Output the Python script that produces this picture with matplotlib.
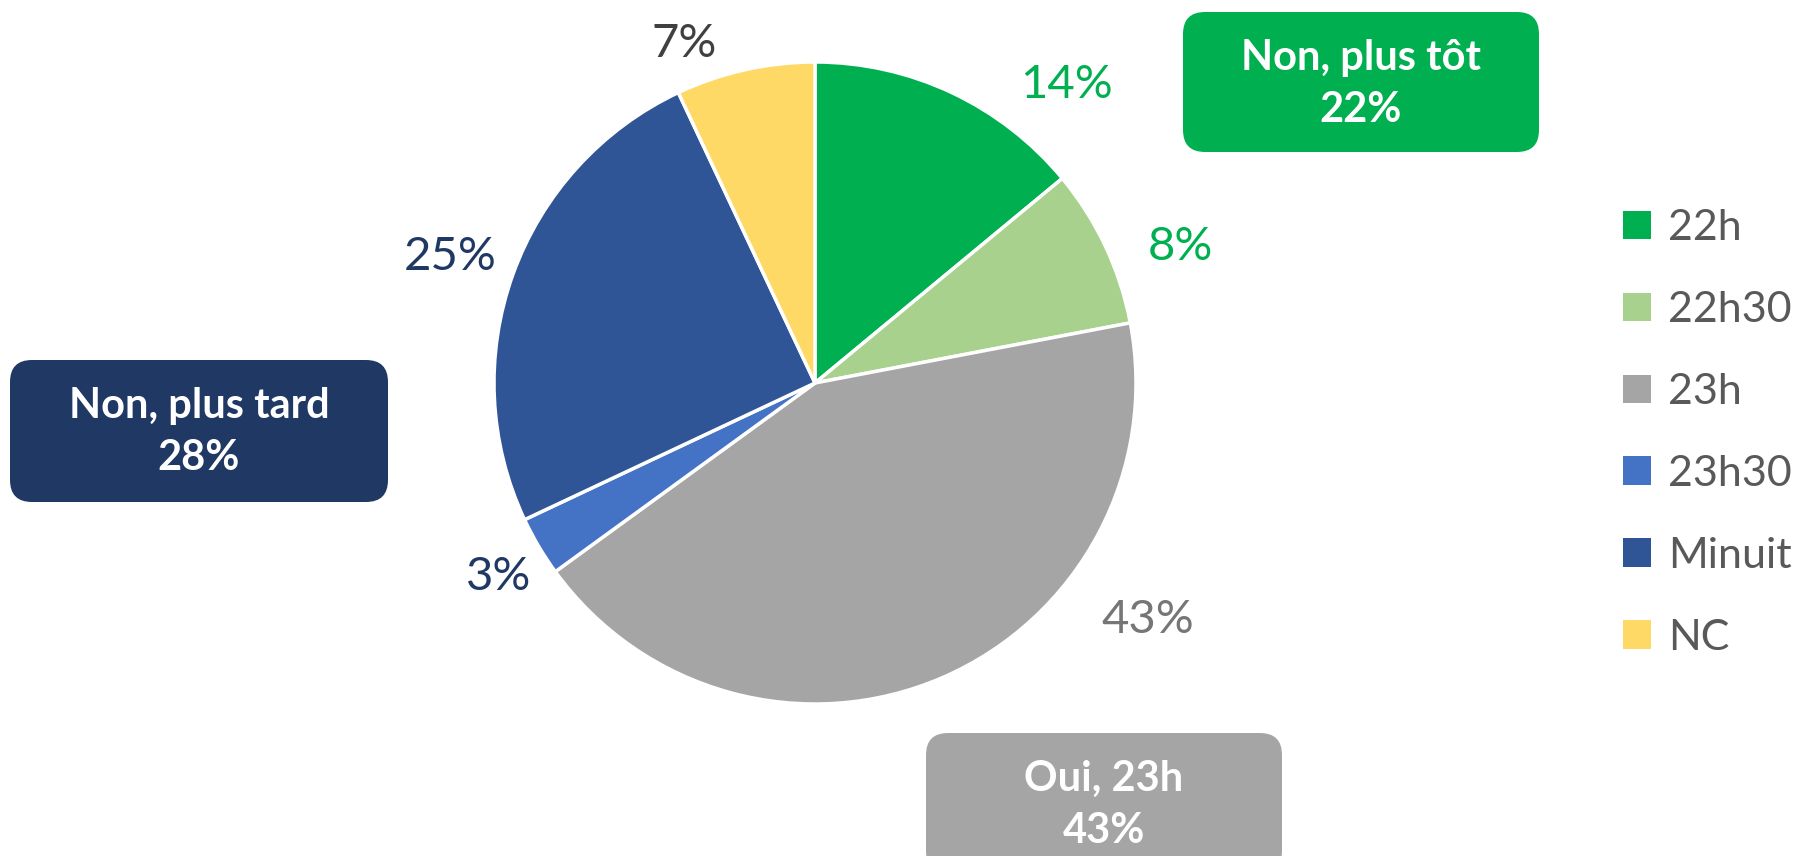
import matplotlib.pyplot as plt
from matplotlib.patches import FancyBboxPatch

plt.rcParams['font.family'] = ['Lato', 'DejaVu Sans']

# données
categories = ["22h", "22h30", "23h", "23h30", "Minuit", "NC"]
values = [14, 8, 43, 3, 25, 7]
colors = ["#00B050", "#A9D18E", "#A5A5A5", "#4472C4", "#2F5597", "#FFD966"]
label_colors = ["#00B050", "#00B050", "#767676", "#203864", "#203864", "#404040"]

# regroupements (boites)
groups = ["Non, plus tôt", "Oui, 23h", "Non, plus tard"]
group_values = [22, 43, 28]
group_colors = ["#00B050", "#A5A5A5", "#203864"]

W, H = 1818, 856
fig = plt.figure(figsize=(W / 100, H / 100), dpi=100)
ax = fig.add_axes([0, 0, 1, 1])

wedges, _ = ax.pie(values, colors=colors, startangle=90, counterclock=False,
                   center=(815, H - 383), radius=321,
                   wedgeprops=dict(edgecolor='white', linewidth=2.5))
# pie() change les limites, on les remet après
ax.set_xlim(0, W)
ax.set_ylim(0, H)
ax.set_aspect('equal')
ax.axis('off')

# positions des étiquettes (pixels, depuis le haut)
label_pos = [(1067, 85), (1180, 247), (1148, 620), (499, 577), (450, 257), (684, 44)]
for v, c, (x, y) in zip(values, label_colors, label_pos):
    ax.text(x, H - y, f"{v}%", color=c, fontsize=34, ha='center', va='center')

# boites arrondies
boxes = [(1183, 12, 356, 140), (926, 733, 356, 140), (10, 360, 378, 142)]
for name, v, c, (x, y, w, h) in zip(groups, group_values, group_colors, boxes):
    p = FancyBboxPatch((x, H - y - h), w, h, boxstyle="round,pad=0,rounding_size=22",
                       facecolor=c, edgecolor='none')
    ax.add_patch(p)
    ax.text(x + w / 2, H - y - 46, name, color='white', fontsize=30,
            fontweight='bold', ha='center', va='center')
    ax.text(x + w / 2, H - y - 98, f"{v}%", color='white', fontsize=30,
            fontweight='bold', ha='center', va='center')

leg = ax.legend(wedges, categories, loc='upper left',
                bbox_to_anchor=(1606 / W, 1 - 192 / H), frameon=False,
                fontsize=31, handlelength=0.65, handleheight=0.65,
                handletextpad=0.4, labelspacing=1.02, borderaxespad=0)
for t in leg.get_texts():
    t.set_color('#595959')
for h in leg.legend_handles:
    h.set_linewidth(0)

fig.savefig("out.png", dpi=100)
